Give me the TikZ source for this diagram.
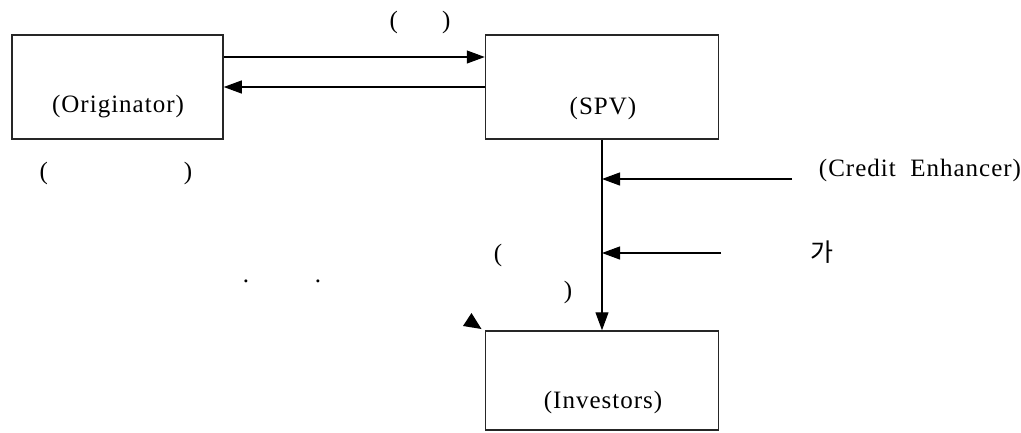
\documentclass[tikz,border=0pt]{standalone}
\usepackage{fontspec}
\setmainfont{Liberation Serif}[LetterSpace=4]
\newfontfamily\kofont{Noto Sans CJK KR}
\usetikzlibrary{arrows.meta}

\tikzset{
    party/.style={draw=black!85, line width=1.5pt, minimum width=#1, minimum height=104pt, inner sep=0pt},
    flow/.style={line width=1.1pt, -{Triangle[length=18pt,width=13pt]}},
    every node/.style={font=\fontsize{25}{30}\selectfont}
}

\begin{document}
\begin{tikzpicture}[x=1pt, y=-1pt]

            \useasboundingbox (0,0) rectangle (1021,432);

            \node[party=211pt] (originator) at (117.5,87)   {};
            \node[party=233pt] (spv)        at (602,87)     {};
            \node[party=233pt, minimum height=99pt] (investors) at (602,380.5) {};

            \node (origtext) at (118,107)  {(Originator)};
            \node (spvtext)  at (603,108)  {(SPV)};
            \node (invtext)  at (603,402)  {(Investors)};

            \node (toplabel)  at (420,22)  {(\hspace{44pt})};
            \node (origlabel) at (116,173) {(\hspace{136pt})};
            \node (credit)    at (920,170) {(Credit\ \ Enhancer)};
            \node (ga)        at (822,252) {\kofont\fontsize{25}{30}\selectfont 가};
            \node (openp)     at (498,255) {(};
            \node (closep)    at (568,292) {)};
            \node (dota)      at (246,281) {.};
            \node (dotb)      at (318,281) {.};

            \coordinate (ce)  at (792,179);
            \coordinate (j1)  at (602,179);
            \coordinate (gf)  at (721,253);
            \coordinate (j2)  at (602,253);

            \draw[flow] ([yshift=30pt]originator.east) -- ([yshift=30pt]spv.west);
            \draw[flow] (spv.west) -- (originator.east);
            \draw[flow] (spv.south) -- (investors.north);
            \draw[flow] (ce) -- (j1);
            \draw[flow] (gf) -- (j2);

            \fill (471.5,313) -- (463,326) -- (481.5,329) -- cycle;

        \end{tikzpicture}
\end{document}
